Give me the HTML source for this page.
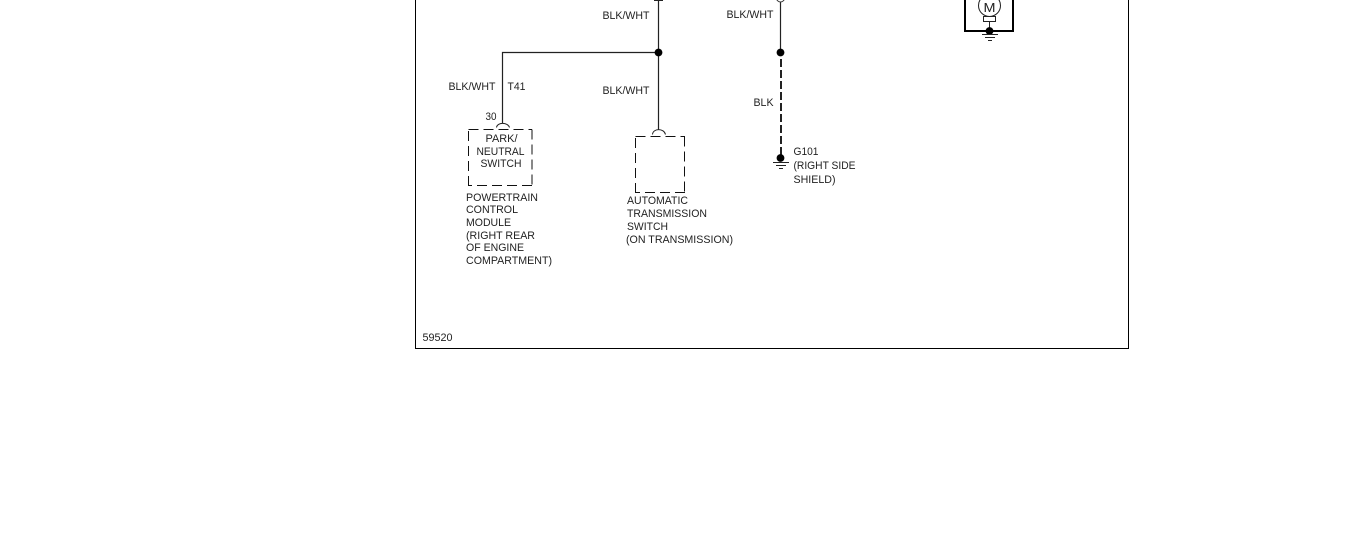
<!DOCTYPE html>
<html>
<head>
<meta charset="utf-8">
<style>
html,body{margin:0;padding:0;background:#fff;width:1346px;height:545px;overflow:hidden}
svg{display:block;position:absolute;left:0;top:0}
text{font-family:"Liberation Sans",sans-serif;font-size:11px;fill:#222}
</style>
</head>
<body>
<svg width="1346" height="545" viewBox="0 0 1346 545" xmlns="http://www.w3.org/2000/svg">
<!-- frame -->
<path d="M415.5 0V348.5H1128.5V0" fill="none" stroke="#000" stroke-width="1"/>

<!-- wires -->
<path d="M658.5 0V130M658.5 52.5H502.5V123" fill="none" stroke="#222" stroke-width="1.2"/>
<path d="M654 0.5H663" stroke="#222" stroke-width="1"/>
<circle cx="658.5" cy="52.5" r="3.9" fill="#000"/>
<path d="M780.5 0V52" fill="none" stroke="#222" stroke-width="1.2"/>
<circle cx="780.5" cy="-2" r="4" fill="#fff" stroke="#333"/>
<circle cx="780.5" cy="52.5" r="3.9" fill="#000"/>
<path d="M781 59V155" stroke="#222" stroke-width="2" stroke-dasharray="8 3" fill="none"/>
<circle cx="780.5" cy="158" r="3.9" fill="#000"/>
<path d="M773 162.5H789M776 165.5H786M779 168.5H783" stroke="#222" stroke-width="1"/>

<!-- park/neutral connector + box -->
<path d="M496.5 127.5C497 122 508 122 509.5 127.5" fill="none" stroke="#222"/>
<path d="M468.5 129.5H532M532 129.5V186M532 185.5H468.5M468.5 186V129.5" fill="none" stroke="#111" stroke-dasharray="10 5"/>

<!-- auto trans connector + box -->
<path d="M652.5 134.5C653 128 664 128 665.5 134.5" fill="none" stroke="#222"/>
<path d="M635.5 136.5H685M684.5 136.5V193M685 192.5H635.5M635.5 193V136.5" fill="none" stroke="#111" stroke-dasharray="10 5"/>

<!-- motor -->
<path d="M965 -1V31H1013V-1" fill="none" stroke="#000" stroke-width="2"/>
<circle cx="989.5" cy="5.5" r="11" fill="#fff" stroke="#222"/>
<rect x="983.5" y="16.5" width="12" height="5" fill="#fff" stroke="#222"/>
<path d="M989.5 21.5V31" stroke="#222"/>
<circle cx="989.5" cy="31" r="3.9" fill="#000"/>
<path d="M982 34.500H998M985 37.500H995M988 40.500H992" stroke="#222"/>
<text x="983.5" y="12" textLength="12" lengthAdjust="spacingAndGlyphs" style="font-size:13px">M</text>

<!-- labels -->
<text x="602.5" y="19" textLength="47" lengthAdjust="spacingAndGlyphs">BLK/WHT</text>
<text x="726.5" y="18" textLength="47" lengthAdjust="spacingAndGlyphs">BLK/WHT</text>
<text x="448.5" y="90" textLength="47" lengthAdjust="spacingAndGlyphs">BLK/WHT</text>
<text x="507.5" y="90" textLength="18" lengthAdjust="spacingAndGlyphs">T41</text>
<text x="602.5" y="94" textLength="47" lengthAdjust="spacingAndGlyphs">BLK/WHT</text>
<text x="485.5" y="120" textLength="11" lengthAdjust="spacingAndGlyphs">30</text>
<text x="753.5" y="106" textLength="20" lengthAdjust="spacingAndGlyphs">BLK</text>

<text x="485.5" y="142" textLength="32" lengthAdjust="spacingAndGlyphs">PARK/</text>
<text x="476.5" y="155" textLength="48" lengthAdjust="spacingAndGlyphs">NEUTRAL</text>
<text x="480.5" y="167" textLength="41" lengthAdjust="spacingAndGlyphs">SWITCH</text>

<text x="466" y="201" textLength="72" lengthAdjust="spacingAndGlyphs">POWERTRAIN</text>
<text x="466" y="213" textLength="52" lengthAdjust="spacingAndGlyphs">CONTROL</text>
<text x="466" y="226" textLength="45" lengthAdjust="spacingAndGlyphs">MODULE</text>
<text x="466" y="239" textLength="69" lengthAdjust="spacingAndGlyphs">(RIGHT REAR</text>
<text x="466" y="251" textLength="58" lengthAdjust="spacingAndGlyphs">OF ENGINE</text>
<text x="466" y="264" textLength="86" lengthAdjust="spacingAndGlyphs">COMPARTMENT)</text>

<text x="627" y="204" textLength="61" lengthAdjust="spacingAndGlyphs">AUTOMATIC</text>
<text x="627" y="217" textLength="80" lengthAdjust="spacingAndGlyphs">TRANSMISSION</text>
<text x="627" y="230" textLength="41" lengthAdjust="spacingAndGlyphs">SWITCH</text>
<text x="626" y="243" textLength="107" lengthAdjust="spacingAndGlyphs">(ON TRANSMISSION)</text>

<text x="793.5" y="155" textLength="25" lengthAdjust="spacingAndGlyphs">G101</text>
<text x="793.5" y="169" textLength="62" lengthAdjust="spacingAndGlyphs">(RIGHT SIDE</text>
<text x="793.5" y="183" textLength="42" lengthAdjust="spacingAndGlyphs">SHIELD)</text>

<text x="422.5" y="341" textLength="30" lengthAdjust="spacingAndGlyphs">59520</text>
</svg>
</body>
</html>
